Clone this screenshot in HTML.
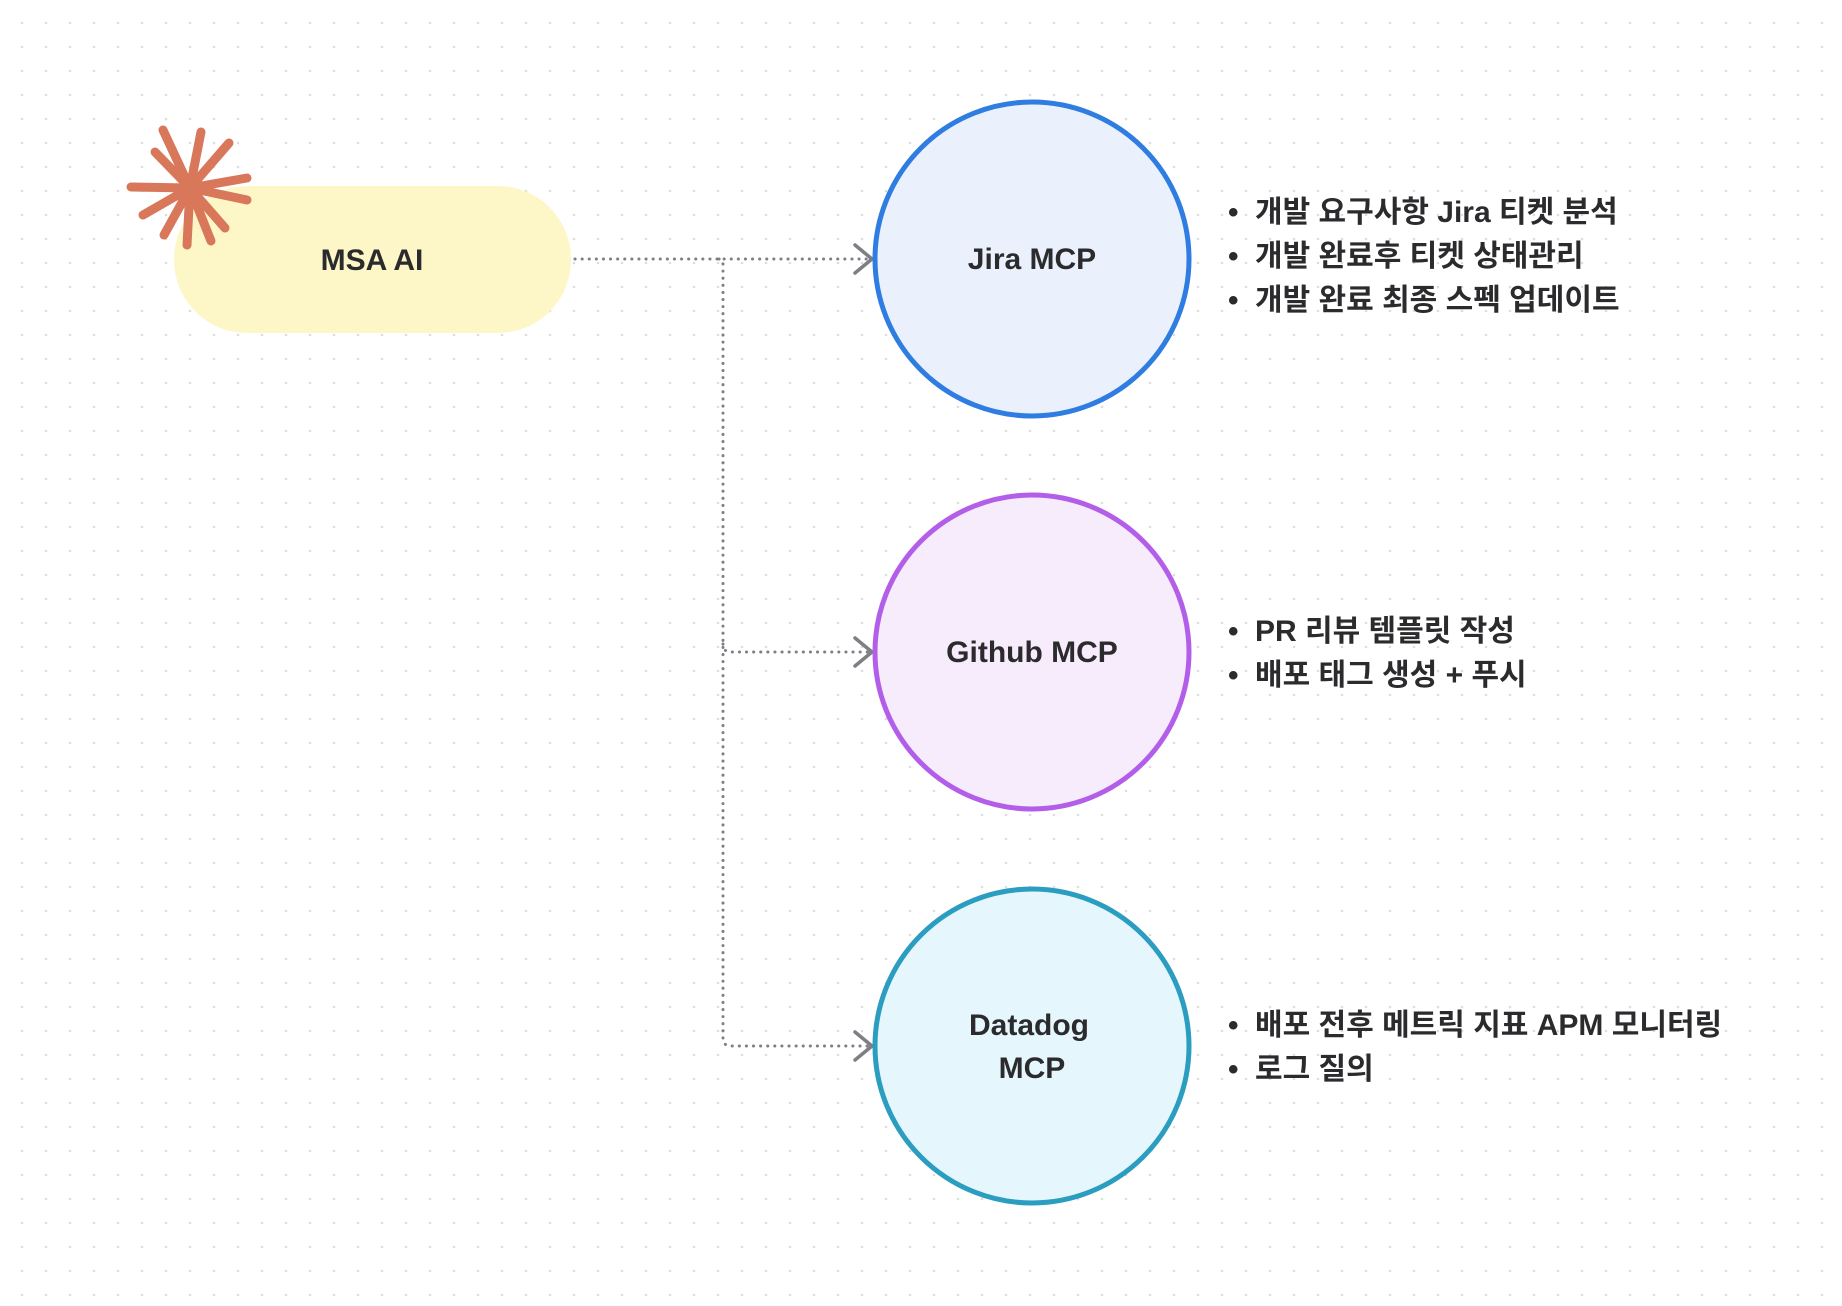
<!DOCTYPE html>
<html><head><meta charset="utf-8"><style>
html,body{margin:0;padding:0;background:#fff;}
svg{display:block;}
text{font-family:"Liberation Sans","Noto Sans CJK KR",sans-serif;font-weight:bold;fill:#2b2b2e;}
</style></head><body>
<svg width="1842" height="1306" viewBox="0 0 1842 1306" xmlns="http://www.w3.org/2000/svg">
<defs>
<pattern id="dots" x="10" y="11" width="24" height="24" patternUnits="userSpaceOnUse">
<circle cx="12" cy="12" r="1.3" fill="#dcdcdc"/>
</pattern>
</defs>
<rect width="1842" height="1306" fill="#fff"/>
<rect width="1842" height="1306" fill="url(#dots)"/>

<rect x="174" y="186" width="397" height="147" rx="73" fill="#fdf7c8"/>
<text x="372" y="270" font-size="30" text-anchor="middle">MSA AI</text>

<g stroke="#d9775a" stroke-width="9" stroke-linecap="round" transform="translate(190,188)">
<line x1="0" y1="0" x2="-27" y2="-58"/>
<line x1="0" y1="0" x2="11" y2="-56"/>
<line x1="0" y1="0" x2="39" y2="-45"/>
<line x1="0" y1="0" x2="57" y2="-10"/>
<line x1="0" y1="0" x2="57" y2="12"/>
<line x1="0" y1="0" x2="35" y2="40"/>
<line x1="0" y1="0" x2="21" y2="53"/>
<line x1="0" y1="0" x2="-3" y2="57"/>
<line x1="0" y1="0" x2="-26" y2="47"/>
<line x1="0" y1="0" x2="-47" y2="27"/>
<line x1="0" y1="0" x2="-59" y2="-1"/>
<line x1="0" y1="0" x2="-35" y2="-36"/>
</g>

<g fill="none" stroke="#7d7f85" stroke-width="3" stroke-dasharray="0.1 7" stroke-linecap="round">
<path d="M575 259 H869"/>
<path d="M719 259 Q723 259 723 265 V1038 Q723 1046 731 1046 H869"/>
<path d="M723 644 Q723 652 731 652 H869"/>
</g>
<g fill="none" stroke="#7d7f85" stroke-width="3.5" stroke-linecap="round" stroke-linejoin="round">
<path d="M855 245 L872 259 L855 273"/>
<path d="M855 638 L872 652 L855 666"/>
<path d="M855 1032 L872 1046 L855 1060"/>
</g>

<circle cx="1032" cy="259" r="157" fill="#eaf1fd" stroke="#2f7de1" stroke-width="5"/>
<circle cx="1032" cy="652" r="157" fill="#f7ecfc" stroke="#b35ee8" stroke-width="5"/>
<circle cx="1032" cy="1046" r="157" fill="#e5f6fc" stroke="#2a9dc0" stroke-width="5"/>
<text x="1032" y="269" font-size="30" text-anchor="middle">Jira MCP</text>
<text x="1032" y="662" font-size="30" text-anchor="middle">Github MCP</text>
<text x="1029" y="1035" font-size="30" text-anchor="middle">Datadog</text>
<text x="1032" y="1078" font-size="30" text-anchor="middle">MCP</text>

<g font-size="30">
<text x="1228" y="222">•<tspan x="1255">개발 요구사항 Jira 티켓 분석</tspan></text>
<text x="1228" y="266">•<tspan x="1255">개발 완료후 티켓 상태관리</tspan></text>
<text x="1228" y="310">•<tspan x="1255">개발 완료 최종 스펙 업데이트</tspan></text>
<text x="1228" y="641">•<tspan x="1255">PR 리뷰 템플릿 작성</tspan></text>
<text x="1228" y="685">•<tspan x="1255">배포 태그 생성 + 푸시</tspan></text>
<text x="1228" y="1035">•<tspan x="1255">배포 전후 메트릭 지표 APM 모니터링</tspan></text>
<text x="1228" y="1079">•<tspan x="1255">로그 질의</tspan></text>
</g>
</svg>
</body></html>
